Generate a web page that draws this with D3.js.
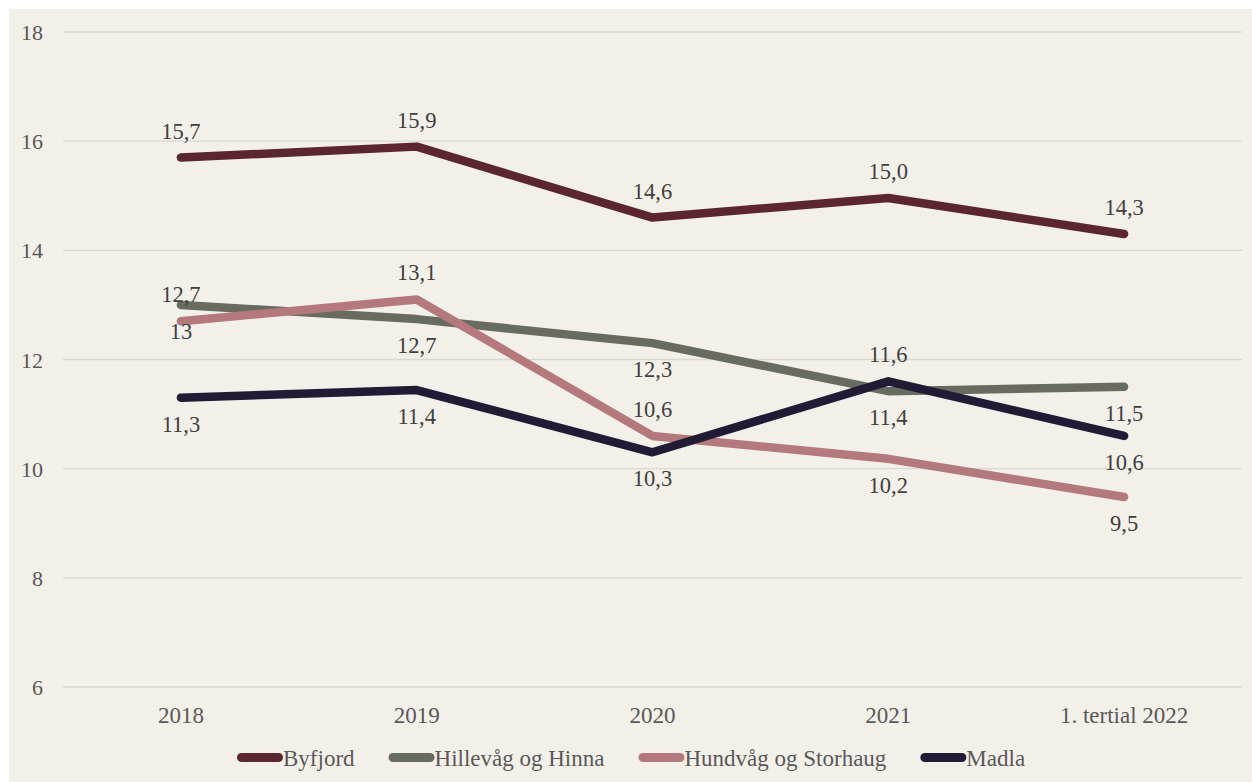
<!DOCTYPE html>
<html>
<head>
<meta charset="utf-8">
<script src="https://cdn.jsdelivr.net/npm/d3@7"></script>
<style>
  body { margin: 0; background: #fff; }
  svg { display: block; }
  text { font-family: "Liberation Serif", "Times New Roman", serif; }
</style>
</head>
<body>
<svg id="chart"></svg>
<script>
// data
const categories = ["2018", "2019", "2020", "2021", "1. tertial 2022"];
const seriesNames = ["Byfjord", "Hillevåg og Hinna", "Hundvåg og Storhaug", "Madla"];
const byfjord  = [15.7, 15.9, 14.6, 14.96, 14.3];
const hillevag = [13, 12.74, 12.3, 11.42, 11.5];
const hundvag  = [12.7, 13.1, 10.6, 10.18, 9.48];
const madla    = [11.3, 11.44, 10.3, 11.6, 10.6];
const yTicks = [6, 8, 10, 12, 14, 16, 18];

const colors = ["#5b2630", "#686b5f", "#b4797d", "#221b36"];
// which side of the line each data label sits on
const labelSide = [
  ["up", "up", "up", "up", "up"],
  ["down", "down", "down", "down", "down"],
  ["up", "up", "up", "down", "down"],
  ["down", "down", "down", "up", "down"]
];

const W = 1252, H = 782;
const svg = d3.select("#chart").attr("width", W).attr("height", H);

svg.append("rect").attr("x", 9).attr("y", 9).attr("width", W - 9).attr("height", H - 9)
  .attr("fill", "#f3f0ea");

const x = d3.scaleBand().domain(categories).range([63, 1242]);
const y = d3.scaleLinear().domain([6, 18]).range([687, 32]);

// grid
svg.append("g").selectAll("line").data(yTicks).join("line")
  .attr("x1", 63).attr("x2", 1242)
  .attr("y1", d => y(d)).attr("y2", d => y(d))
  .attr("stroke", "#d9d8d5").attr("stroke-width", 1.3);

// y tick labels
svg.append("g").selectAll("text").data(yTicks).join("text")
  .attr("x", 43).attr("y", d => y(d) + 8)
  .attr("text-anchor", "end")
  .attr("font-size", 22).attr("fill", "#595959")
  .text(d => d);

// x labels
svg.append("g").selectAll("text").data(categories).join("text")
  .attr("x", d => x(d) + x.bandwidth() / 2).attr("y", 723)
  .attr("text-anchor", "middle")
  .attr("font-size", 23).attr("fill", "#595959")
  .text(d => d);

const allSeries = [byfjord, hillevag, hundvag, madla];
const line = d3.line()
  .x((d, i) => x(categories[i]) + x.bandwidth() / 2)
  .y(d => y(d));

const fmt = v => (Number.isInteger(v) ? String(v) : v.toFixed(1)).replace(".", ",");

allSeries.forEach((vals, s) => {
  svg.append("path").datum(vals)
    .attr("d", line)
    .attr("fill", "none")
    .attr("stroke", colors[s])
    .attr("stroke-width", 8.5)
    .attr("stroke-linecap", "round")
    .attr("stroke-linejoin", "round");
});

allSeries.forEach((vals, s) => {
  svg.append("g").selectAll("text").data(vals).join("text")
    .attr("x", (d, i) => x(categories[i]) + x.bandwidth() / 2)
    .attr("y", (d, i) => y(d) + (labelSide[s][i] === "up" ? -19 : 34))
    .attr("text-anchor", "middle")
    .attr("font-size", 22.5).attr("fill", "#404040")
    .text(d => fmt(d));
});

// legend
const legend = svg.append("g").attr("transform", "translate(237,0)");
let lx = 0;
seriesNames.forEach((name, s) => {
  const g = legend.append("g").attr("transform", `translate(${lx},0)`);
  g.append("line")
    .attr("x1", 4.5).attr("x2", 41.5).attr("y1", 757.5).attr("y2", 757.5)
    .attr("stroke", colors[s]).attr("stroke-width", 9).attr("stroke-linecap", "round");
  const t = g.append("text")
    .attr("x", 46).attr("y", 766)
    .attr("font-size", 23).attr("fill", "#595959")
    .text(name);
  lx += 46 + t.node().getComputedTextLength() + 34;
});
</script>
</body>
</html>
